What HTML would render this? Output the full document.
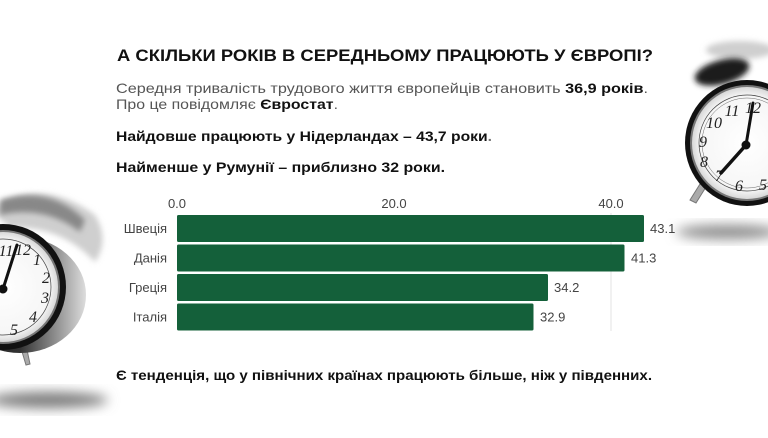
<!DOCTYPE html>
<html><head><meta charset="utf-8"><style>
html,body{margin:0;padding:0;background:#fff;}
svg{display:block;}
</style></head><body>
<svg width="768" height="438" viewBox="0 0 768 438" xmlns="http://www.w3.org/2000/svg">
<defs>
<filter id="b6" x="-50%" y="-50%" width="200%" height="200%"><feGaussianBlur stdDeviation="6"/></filter>
<filter id="b3" x="-50%" y="-50%" width="200%" height="200%"><feGaussianBlur stdDeviation="3"/></filter>
<radialGradient id="face" cx="50%" cy="50%" r="50%"><stop offset="0" stop-color="#ffffff"/><stop offset="0.85" stop-color="#f6f6f6"/><stop offset="1" stop-color="#d8d8d8"/></radialGradient>
<linearGradient id="chrome" x1="0" y1="0" x2="1" y2="0"><stop offset="0" stop-color="#111"/><stop offset="0.5" stop-color="#333"/><stop offset="0.8" stop-color="#999"/><stop offset="1" stop-color="#ddd"/></linearGradient>
</defs>

<!-- Right clock -->
<g>
  <ellipse cx="728" cy="232" rx="52" ry="7" fill="#8a8a8a" filter="url(#b6)"/>
  <ellipse cx="740" cy="50" rx="34" ry="9" fill="#cfcfcf" filter="url(#b3)"/>
  <ellipse cx="722" cy="72" rx="28" ry="12" fill="#1a1a1a" filter="url(#b3)" transform="rotate(-15 722 72)"/>
  <path d="M690 200 L700 184 L706 187 L696 203 Z" fill="#aaa" stroke="#777" stroke-width="1"/>
  <ellipse cx="747" cy="143" rx="62" ry="63" fill="#111"/>
  <ellipse cx="747" cy="143" rx="57" ry="58" fill="#777"/>
  <ellipse cx="747" cy="143" rx="55" ry="56" fill="url(#face)"/>
  <circle cx="747" cy="143" r="48" fill="none" stroke="#444" stroke-width="0.7"/>
  <circle cx="747" cy="143" r="45" fill="none" stroke="#666" stroke-width="0.5"/>
  <g font-family="Liberation Serif, serif" font-style="italic" font-size="16" fill="#222" text-anchor="middle">
    <text x="732" y="116">11</text>
    <text x="753" y="113">12</text>
    <text x="714" y="128">10</text>
    <text x="703" y="147">9</text>
    <text x="704" y="167">8</text>
    <text x="719" y="181">7</text>
    <text x="739" y="191">6</text>
    <text x="763" y="190">5</text>
  </g>
  <line x1="746" y1="145" x2="753" y2="103" stroke="#111" stroke-width="3" stroke-linecap="round"/>
  <line x1="746" y1="145" x2="721" y2="173" stroke="#111" stroke-width="3.5" stroke-linecap="round"/>
  <circle cx="746" cy="145" r="4.5" fill="#111"/>
</g>

<!-- Left clock -->
<g>
  <ellipse cx="48" cy="400" rx="60" ry="8" fill="#7a7a7a" filter="url(#b6)"/>
  <path d="M-10 210 Q40 175 95 215 Q110 240 95 262 Q60 225 10 228 Z" fill="#cfcfcf" filter="url(#b3)"/>
  <path d="M0 200 Q50 185 85 220 L80 232 Q45 205 0 215 Z" fill="#888" filter="url(#b3)"/>
  <path d="M20 345 L26 365 L30 364 L26 345 Z" fill="#aaa" stroke="#777" stroke-width="1"/>
  <ellipse cx="20" cy="295" rx="66" ry="58" fill="url(#chrome)"/>
  <circle cx="3" cy="287" r="63" fill="#111"/>
  <circle cx="3" cy="287" r="57" fill="#777"/>
  <circle cx="3" cy="287" r="55" fill="url(#face)"/>
  <circle cx="3" cy="287" r="48" fill="none" stroke="#444" stroke-width="0.7"/>
  <g font-family="Liberation Serif, serif" font-style="italic" font-size="16" fill="#222" text-anchor="middle">
    <text x="6" y="256">11</text>
    <text x="23" y="255">12</text>
    <text x="37" y="265">1</text>
    <text x="46" y="283">2</text>
    <text x="45" y="303">3</text>
    <text x="33" y="322">4</text>
    <text x="14" y="335">5</text>
  </g>
  <line x1="3" y1="289" x2="17" y2="245" stroke="#111" stroke-width="3" stroke-linecap="round"/>
  <circle cx="3" cy="289" r="4.5" fill="#111"/>
</g>

<!-- Text -->
<g font-family="Liberation Sans, sans-serif">
  <text x="117" y="61" font-size="17" font-weight="bold" fill="#111" textLength="536" lengthAdjust="spacingAndGlyphs">А СКІЛЬКИ РОКІВ В СЕРЕДНЬОМУ ПРАЦЮЮТЬ У ЄВРОПІ?</text>
  <text x="116" y="93" font-size="14" fill="#555" textLength="532" lengthAdjust="spacingAndGlyphs">Середня тривалість трудового життя європейців становить <tspan font-weight="bold" fill="#111">36,9 років</tspan>.</text>
  <text x="116" y="109" font-size="14" fill="#555" textLength="222" lengthAdjust="spacingAndGlyphs">Про це повідомляє <tspan font-weight="bold" fill="#111">Євростат</tspan>.</text>
  <text x="116" y="141" font-size="14" font-weight="bold" fill="#111" textLength="376" lengthAdjust="spacingAndGlyphs">Найдовше працюють у Нідерландах – 43,7 роки<tspan fill="#777">.</tspan></text>
  <text x="116" y="172" font-size="14" font-weight="bold" fill="#111" textLength="329" lengthAdjust="spacingAndGlyphs">Найменше у Румунії – приблизно 32 роки.</text>
  <text x="116" y="380" font-size="14" font-weight="bold" fill="#111" textLength="536" lengthAdjust="spacingAndGlyphs">Є тенденція, що у північних країнах працюють більше, ніж у південних.</text>
</g>

<!-- Chart -->
<g font-family="Liberation Sans, sans-serif" font-size="13" fill="#444">
  <line x1="611" y1="213" x2="611" y2="331" stroke="#e3e3e3" stroke-width="1"/>
  <text x="177" y="208" text-anchor="middle">0.0</text>
  <text x="394" y="208" text-anchor="middle">20.0</text>
  <text x="611" y="208" text-anchor="middle">40.0</text>

  <rect x="177" y="215" width="467" height="27" rx="1.5" fill="#14603a"/>
  <rect x="177" y="244.5" width="447.5" height="27" rx="1.5" fill="#14603a"/>
  <rect x="177" y="274" width="371" height="27" rx="1.5" fill="#14603a"/>
  <rect x="177" y="303.5" width="356.5" height="27" rx="1.5" fill="#14603a"/>

  <text x="167" y="233" text-anchor="end">Швеція</text>
  <text x="167" y="262.5" text-anchor="end">Данія</text>
  <text x="167" y="292" text-anchor="end">Греція</text>
  <text x="167" y="321.5" text-anchor="end">Італія</text>

  <text x="650" y="233">43.1</text>
  <text x="631" y="262.5">41.3</text>
  <text x="554" y="292">34.2</text>
  <text x="540" y="321.5">32.9</text>
</g>
</svg>
</body></html>
